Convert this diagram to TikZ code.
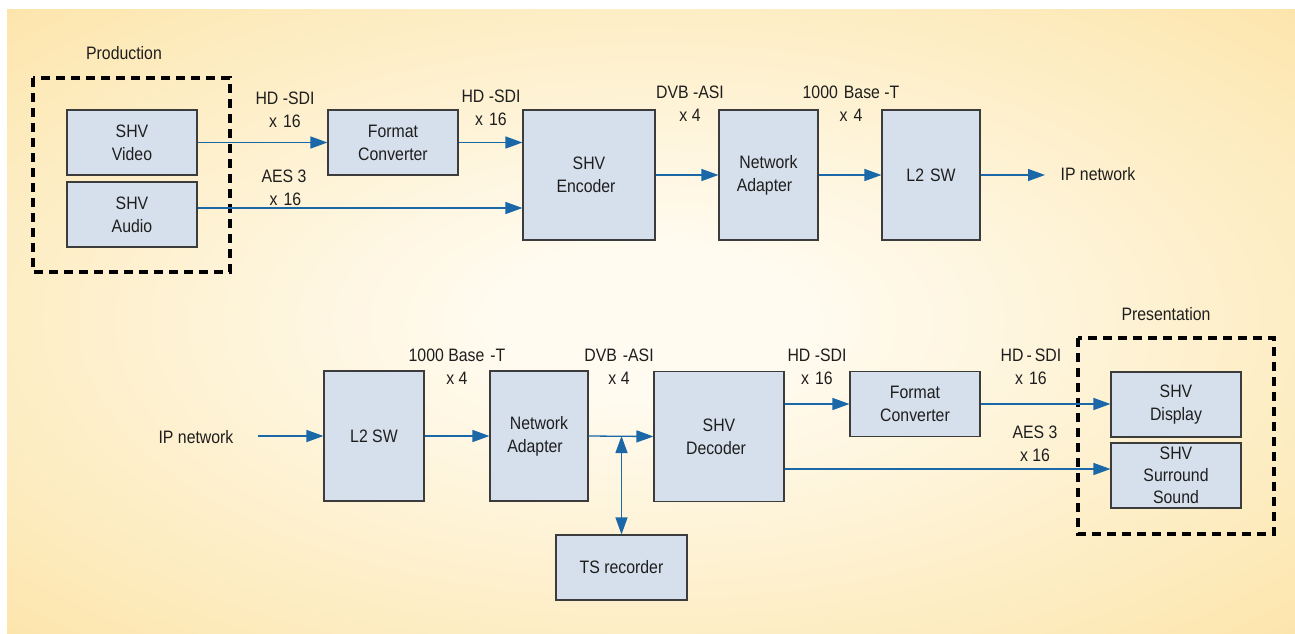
\documentclass[tikz,border=0pt]{standalone}
\usepackage{fontspec}
\setmainfont{Liberation Sans}[FakeStretch=0.88]
\usetikzlibrary{arrows.meta}
\definecolor{bgin}{RGB}{255,251,240}
\definecolor{bgmid}{RGB}{253,234,186}
\definecolor{bgout}{RGB}{251,214,136}
\definecolor{boxfill}{RGB}{214,224,236}
\definecolor{boxline}{RGB}{60,60,60}
\definecolor{arrblue}{RGB}{26,104,168}
\definecolor{txt}{RGB}{30,30,30}
\pgfdeclareradialshading{bgshade}{\pgfpoint{0bp}{0bp}}{color(0bp)=(bgin); color(6bp)=(bgin); color(30bp)=(bgmid); color(50bp)=(bgout); color(100bp)=(bgout)}
\tikzset{
  every node/.style={font=\fontsize{18}{23}\selectfont, text=txt},
  box/.style={draw=boxline, fill=boxfill, line width=1.1pt, inner sep=0pt, align=center},
  lbl/.style={align=center, inner sep=0pt},
  arr/.style={draw=arrblue, line width=1.3pt, -{Triangle[length=17pt,width=12pt]}},
  darr/.style={draw=arrblue, line width=1.3pt, {Triangle[length=17pt,width=12pt]}-{Triangle[length=17pt,width=12pt]}},
  group/.style={draw=black, line width=3.5pt, dash pattern=on 9pt off 6pt},
}
\begin{document}
\begin{tikzpicture}[x=1pt,y=-1pt]
\useasboundingbox (0,0) rectangle (1295,633);
\fill[white] (0,0) rectangle (1295,633);
\shade[shading=bgshade] (7,9) rectangle (1295,633);

% ---------- top row ----------
\node[lbl] (prodlbl) at (124,53) {Production};
\draw[group] (33,78) rectangle (230,272);
\node[box, minimum width=130pt, minimum height=65pt] (video) at (132,142.5) {SHV\\Video};
\node[box, minimum width=130pt, minimum height=65pt] (audio) at (132,214.5) {SHV\\Audio};
\node[box, minimum width=130pt, minimum height=65pt] (fc1) at (393,142.5) {Format\\Converter};
\node[box, minimum width=132pt, minimum height=130pt] (enc) at (589,175) {SHV\\Encoder\hspace*{6pt}};
\node[box, minimum width=99pt, minimum height=130pt] (na1) at (768.5,175) {Network\\Adapter\hspace*{8pt}};
\node[box, minimum width=98pt, minimum height=130pt] (l2a) at (931,175) {L2\,\,SW};
\node[lbl] (ipout) at (1098,174) {IP network};
\coordinate (ipend) at (1045,175);

\draw[arr] (video.east) -- (fc1.west);
\draw[arr] (fc1.east) -- (enc.west |- fc1.east);
\draw[arr] (audio.east |- 0,208) -- (enc.west |- 0,208);
\draw[arr] (enc.east) -- (na1.west);
\draw[arr] (na1.east) -- (l2a.west);
\draw[arr] (l2a.east) -- (ipend);

\node[lbl] (t1) at (285,110) {HD -SDI\\x\,\,16};
\node[lbl] (t2) at (491,108) {HD -SDI\\x\,\,16};
\node[lbl] (t3) at (284,188) {AES 3\\\,x\,\,16};
\node[lbl] (t4) at (690,104) {DVB -ASI\\x 4};
\node[lbl] (t5) at (851,104) {1000\,\,Base -T\\x\,\,4};

% ---------- bottom row ----------
\node[lbl] (ipin) at (196,437) {IP network};
\coordinate (ipstart) at (258,436);
\node[box, minimum width=100pt, minimum height=130pt] (l2b) at (374,436) {L2 SW};
\node[box, minimum width=98pt, minimum height=130pt] (na2) at (539,436) {Network\\Adapter\hspace*{8pt}};
\node[box, minimum width=130pt, minimum height=130pt] (dec) at (719,436.5) {SHV\\Decoder\hspace*{6pt}};
\node[box, minimum width=131pt, minimum height=65pt] (ts) at (621.5,567.5) {TS recorder};
\node[box, minimum width=130pt, minimum height=65pt] (fc2) at (915,404) {Format\\Converter};
\node[lbl] (preslbl) at (1166,314) {Presentation};
\draw[group] (1078,338) rectangle (1274,534);
\node[box, minimum width=130pt, minimum height=65pt] (disp) at (1176,404.5) {SHV\\Display};
\node[box, minimum width=130pt, minimum height=65pt] (surr) at (1176,475.5) {\raisebox{6pt}{\parbox{120pt}{\centering SHV\\[-1pt]Surround\\[-1pt]Sound}}};

\draw[arr] (ipstart) -- (l2b.west);
\draw[arr] (l2b.east) -- (na2.west);
\draw[arr] (na2.east) -- (dec.west);
\coordinate (junc) at (ts.north |- na2.east);
\draw[darr] (junc) -- (ts.north);
\draw[arr] (dec.east |- fc2.west) -- (fc2.west);
\draw[arr] (fc2.east) -- (disp.west |- fc2.east);
\draw[arr] (dec.east |- 0,469) -- (surr.west |- 0,469);

\node[lbl] (b1) at (457,367) {1000 Base\,\,-T\\x 4};
\node[lbl] (b2) at (619,367) {DVB\,\,-ASI\\x 4};
\node[lbl] (b3) at (817,367) {HD -SDI\\x\,\,16};
\node[lbl] (b4) at (1031,367) {HD\,-\,SDI\\x\,\,16};
\node[lbl] (b5) at (1035,444) {AES 3\\x 16};
\end{tikzpicture}
\end{document}
